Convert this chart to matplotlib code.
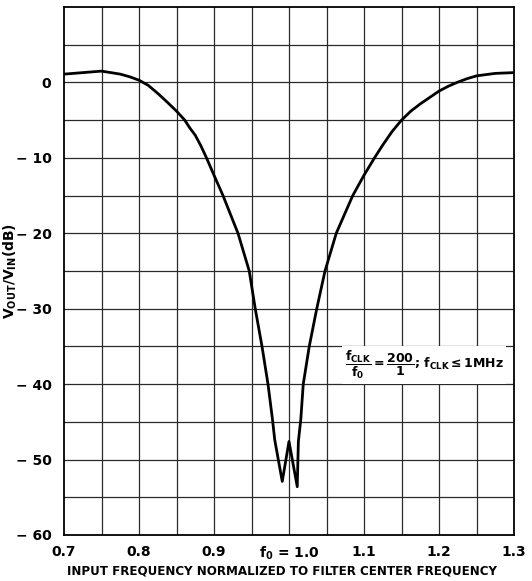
import numpy as np
import matplotlib
matplotlib.use("Agg")
import matplotlib.pyplot as plt

plt.rcParams["font.family"] = ["DejaVu Sans"]
plt.rcParams["mathtext.default"] = "bf"

# curve (normalized frequency, dB)
freq = [0.700, 0.725, 0.750, 0.775, 0.7875, 0.800, 0.8125, 0.825, 0.8375, 0.850,
        0.861, 0.8675, 0.875, 0.8825, 0.890, 0.900, 0.912, 0.922, 0.932, 0.947,
        0.955, 0.964, 0.972, 0.978, 0.981, 0.991, 1.000,
        1.011, 1.0125, 1.0157, 1.019, 1.027, 1.037, 1.048, 1.063, 1.085, 1.100,
        1.114, 1.125, 1.1375, 1.150, 1.1625, 1.175, 1.1875, 1.200, 1.2125,
        1.224, 1.2375, 1.250, 1.275, 1.300]
gain_db = [1.1, 1.3, 1.5, 1.1, 0.75, 0.3, -0.4, -1.45, -2.6, -3.8,
           -5.0, -6.0, -7.0, -8.4, -10.0, -12.3, -15.0, -17.5, -20.0, -25.0,
           -30.0, -35.0, -40.0, -44.7, -47.4, -52.9, -47.6,
           -53.6, -47.6, -44.7, -40.0, -35.0, -30.0, -25.0, -20.0, -15.0, -12.3,
           -10.0, -8.3, -6.5, -5.0, -3.8, -2.85, -2.0, -1.15, -0.5,
           0.0, 0.5, 0.87, 1.2, 1.3]

xticks = [0.7, 0.8, 0.9, 1.0, 1.1, 1.2, 1.3]
xtick_labels = ["0.7", "0.8", "0.9", r"f$_0$ = 1.0", "1.1", "1.2", "1.3"]
yticks = [0, -10, -20, -30, -40, -50, -60]
ytick_labels = ["0", "− 10", "− 20", "− 30", "− 40", "− 50", "− 60"]

fig = plt.figure(figsize=(5.32, 5.81), dpi=100)
ax = fig.add_axes([64 / 532, 46 / 581, 450 / 532, 528 / 581])

ax.set_xlim(0.7, 1.3)
ax.set_ylim(-60, 10)

# grid every 0.05 / 5 dB
for gx in np.arange(0.75, 1.3, 0.05):
    ax.axvline(gx, color="#2a2a2a", lw=0.9, zorder=1)
for gy in np.arange(-55, 10, 5):
    ax.axhline(gy, color="#2a2a2a", lw=0.9, zorder=1)

ax.plot(freq, gain_db, color="black", lw=2.0, zorder=3)

ax.set_xticks(xticks)
ax.set_xticklabels(xtick_labels, fontsize=10, fontweight="bold")
ax.set_yticks(yticks)
ax.set_yticklabels(ytick_labels, fontsize=10, fontweight="bold")
ax.tick_params(axis="y", length=0, pad=9)
ax.tick_params(axis="x", length=0, pad=7)

for s in ax.spines.values():
    s.set_linewidth(1.3)

ax.set_xlabel("INPUT FREQUENCY NORMALIZED TO FILTER CENTER FREQUENCY",
              fontsize=8.6, fontweight="bold", va="center")
ax.xaxis.set_label_coords(0.485, -0.068)
ax.set_ylabel(r"V$_{\mathregular{OUT}}$/V$_{\mathregular{IN}}$(dB)",
              fontsize=10, fontweight="bold")
ax.yaxis.set_label_coords(-0.101, 0.5)

ax.text(1.18, -37.5,
        r"$\dfrac{f_{CLK}}{f_0}=\dfrac{200}{1}$; f$_{CLK}$$\leq$1MHz",
        fontsize=9, fontweight="bold", ha="center", va="center", zorder=4,
        bbox=dict(facecolor="white", edgecolor="none", pad=2))

fig.savefig("out.png", dpi=100)
plt.close(fig)
